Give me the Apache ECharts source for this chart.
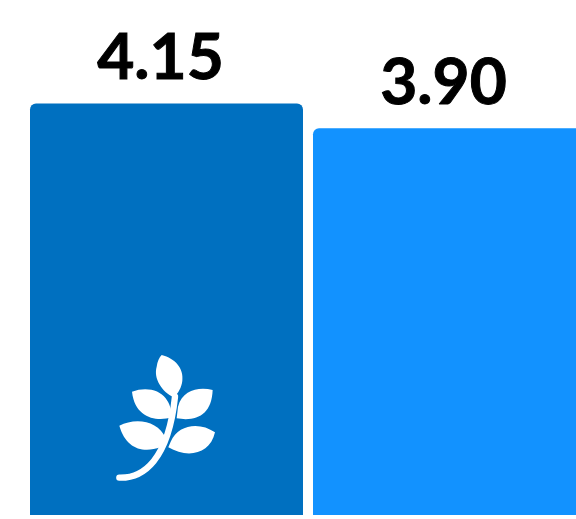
<!DOCTYPE html>
<html><head><meta charset="utf-8">
<style>html,body{margin:0;padding:0;background:#fff;overflow:hidden}#c{width:576px;height:519px}</style>
<script src="https://cdn.jsdelivr.net/npm/echarts@6/dist/echarts.min.js"></script>
</head><body><div id="c"></div>
<script>
const categories = ['A', 'B'];
const values = [4.15, 3.90];
const barColors = ['#0070C0', '#1292FF'];
const leaves = 'M185 45C225 55 252 85 247 122C245 142 234 160 222 172C185 155 160 115 170 80C172 65 178 52 185 45Z' +
 'M96 155C135 140 178 148 197 175C208 190 214 205 215 232C170 245 105 235 96 155Z' +
 'M338 150C295 140 248 150 234 200L230 235C290 245 335 225 338 150Z' +
 'M58 257C105 232 175 240 197 295L182 322C125 340 78 325 58 257Z' +
 'M345 277C300 245 235 252 212 305L205 322C260 355 330 345 345 277Z';
const stem = 'M58 413C130 415 205 360 225 170';
const chart = echarts.init(document.getElementById('c'), null, {renderer:'canvas'});
chart.setOption({
  animation:false,
  grid:{left:25,right:-15,top:103.5,bottom:4,outerBoundsMode:'none'},
  xAxis:{type:'category',data:categories,show:false},
  yAxis:{type:'value',min:0,max:4.15,show:false},
  series:[{
    type:'bar',barWidth:273,
    data:values.map((v,i)=>({value:v,itemStyle:{color:barColors[i]}})),
    itemStyle:{borderRadius:[6,6,0,0]},
    label:{show:true,position:'top',distance:13,offset:[-6,0],
      formatter:p=>p.value.toFixed(2),
      fontFamily:'Lato',fontWeight:'bold',fontSize:64,color:'#000',
      textBorderColor:'#000',textBorderWidth:1},
    clip:false
  },{
    type:'custom',coordinateSystem:'none',silent:true,z:5,data:[0],
    clip:false,
    renderItem:()=>({
      type:'group',x:100,y:340,scaleX:1/3,scaleY:1/3,children:[
        {type:'path',shape:{pathData:leaves},style:{fill:'#fff'}},
        {type:'path',shape:{pathData:stem},style:{fill:'none',stroke:'#fff',lineWidth:19,lineCap:'round'}}
      ]})
  }]
});
</script></body></html>
